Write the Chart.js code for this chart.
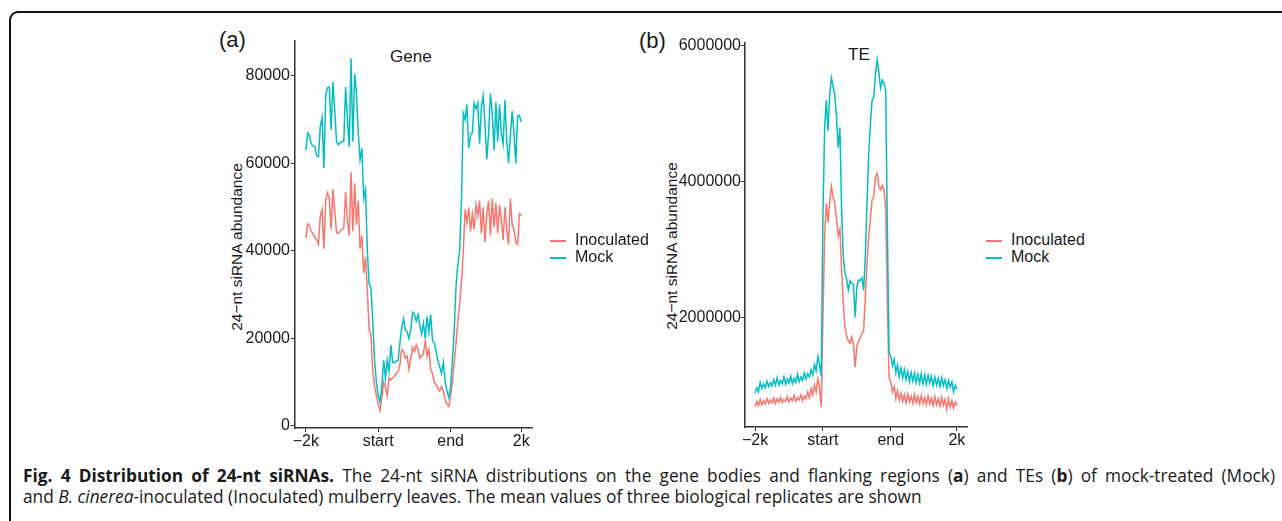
<!DOCTYPE html>
<html>
<head>
<meta charset="utf-8">
<script src="https://cdn.jsdelivr.net/npm/chart.js@4.4.1/dist/chart.umd.min.js"></script>
<style>
  body { margin: 0; width: 1282px; height: 521px; overflow: hidden; background: #fff; position: relative; font-family: "Liberation Sans", Arial, sans-serif; color: #1a1a1a; }
  .frame { position: absolute; left: 9px; top: 11px; width: 1300px; height: 540px; border: 2.5px solid #111; border-radius: 9px; }
  canvas { position: absolute; top: 20px; }
  #geneChart { left: 200px; }
  #teChart { left: 640px; }
  .txt { position: absolute; white-space: nowrap; line-height: 1; }
  .panel-tag { font-size: 22px; }
  .panel-title { font-size: 17px; }
  .y-title { position: absolute; white-space: nowrap; font-size: 15.5px; line-height: 1; transform: translate(-50%, -50%) rotate(-90deg); }
  .legend { position: absolute; font-size: 16px; }
  .legend div { position: relative; height: 17px; line-height: 16px; padding-left: 25px; }
  .legend span { position: absolute; left: 0; top: 8px; width: 16px; height: 0; border-top: 2px solid; }
  .caption { position: absolute; left: 23px; top: 465px; width: 1252px; font-family: "Open Sans", sans-serif; font-size: 17.3px; line-height: 21px; white-space: nowrap; color: #1a1a1a; }
  .caption .l1 { text-align: justify; text-align-last: justify; }
</style>
</head>
<body>
<div class="frame"></div>

<div class="txt panel-tag" style="left:219px; top:29px;">(a)</div>
<div class="txt panel-tag" style="left:639px; top:30px;">(b)</div>
<div class="txt panel-title" style="left:390px; top:48px;">Gene</div>
<div class="txt panel-title" style="left:848px; top:46px;">TE</div>
<div class="y-title" style="left:237px; top:247px;">24&minus;nt siRNA abundance</div>
<div class="y-title" style="left:672px; top:246px;">24&minus;nt siRNA abundance</div>

<canvas id="geneChart" width="340" height="440"></canvas>
<canvas id="teChart" width="340" height="440"></canvas>

<div class="legend" id="geneLegend" style="left:550px; top:232px;"></div>
<div class="legend" id="teLegend" style="left:986px; top:232px;"></div>

<div class="caption">
  <div class="l1"><b>Fig. 4 Distribution of 24-nt siRNAs.</b> The 24-nt siRNA distributions on the gene bodies and flanking regions (<b>a</b>) and TEs (<b>b</b>) of mock-treated (Mock)</div>
  <div>and <i>B. cinerea</i>-inoculated (Inoculated) mulberry leaves. The mean values of three biological replicates are shown</div>
</div>

<script>
// 120 bins: 40 upstream (-2k..start), 40 body (start..end), 40 downstream (end..2k)
const seriesNames = ['Inoculated', 'Mock'];
const seriesColors = ['#F8766D', '#00BFC4'];

const xTickPos = [0, 40, 80, 119];
const xTickLabels = ['\u22122k', 'start', 'end', '2k'];

const geneTicks = [0, 20000, 40000, 60000, 80000];
const teTicks = [2000000, 4000000, 6000000];

const geneInoculated = [
  43000, 46200, 45800, 44500, 43800, 43200, 42500, 41500, 48000, 49500,
  40500, 51500, 53300, 52000, 45000, 54200, 49000, 44200, 44000, 44600,
  45000, 45200, 53500, 47000, 43500, 58000, 44500, 55500, 46000, 51500,
  40500, 43500, 35000, 38500, 31000, 22000, 21000, 12500, 9000, 7000,
  5000, 3500, 6500, 10000, 9000, 7000, 11000, 10500, 11000, 11500,
  12000, 12500, 14000, 17500, 17000, 15500, 16000, 13000, 15500, 18000,
  17000, 18500, 17500, 15500, 16000, 16500, 19500, 16000, 17500, 13000,
  12000, 10000, 9500, 8500, 8000, 9000, 8000, 6000, 5000, 4500,
  7000, 10000, 14500, 19000, 24000, 28000, 33000, 40000, 49500, 46500,
  50000, 44500, 48500, 45000, 50500, 48000, 51500, 44000, 50000, 42000,
  48500, 51500, 43500, 52000, 45500, 51000, 44000, 50500, 47000, 42500,
  50000, 45000, 41500, 52000, 46000, 45000, 42000, 41500, 48500, 48000
];

const geneMock = [
  63000, 67000, 66500, 64500, 64000, 63800, 61800, 61500, 68500, 70500,
  59000, 75700, 77300, 77500, 67700, 78700, 72000, 65000, 64300, 64700,
  65000, 65000, 77500, 70000, 63800, 84000, 65000, 80500, 76000, 67000,
  60800, 63500, 52000, 54000, 40000, 32500, 31500, 24000, 15000, 10000,
  7000, 5500, 9000, 15000, 11000, 15000, 12500, 18500, 14500, 14500,
  14800, 15000, 19000, 22500, 24500, 22000, 21500, 20000, 22000, 26000,
  25500, 24000, 25500, 23000, 21000, 23500, 20000, 25000, 21500, 25500,
  19500, 19000, 17000, 15000, 13500, 12000, 14500, 10000, 8000, 6500,
  9000, 15000, 22000, 32000, 37000, 40000, 52000, 71500, 70000, 73500,
  63500, 66500, 67000, 73800, 72500, 73800, 64500, 73000, 75500, 68500,
  61000, 67000, 76000, 71500, 63000, 74000, 65000, 73500, 67000, 64500,
  74500, 65000, 60000, 66500, 72000, 67000, 60000, 70800, 71000, 69500
];

const teInoculated = [
  680000, 760000, 700000, 790000, 710000, 770000, 720000, 800000, 730000, 780000,
  740000, 810000, 730000, 800000, 750000, 820000, 740000, 790000, 760000, 830000,
  750000, 810000, 770000, 850000, 760000, 820000, 780000, 860000, 770000, 840000,
  800000, 900000, 820000, 950000, 860000, 1000000, 900000, 1100000, 950000, 680000,
  2000000, 3200000, 3680000, 3400000, 3700000, 3930000, 3780000, 3680000, 3450000, 3200000,
  3300000, 2700000, 2200000, 1850000, 1720000, 1650000, 1620000, 1710000, 1600000, 1270000,
  1570000, 1650000, 1700000, 1760000, 1800000, 2300000, 2800000, 3200000, 3450000, 3730000,
  3780000, 4070000, 4120000, 3930000, 3880000, 3950000, 3880000, 3630000, 2200000, 1100000,
  1050000, 900000, 980000, 800000, 920000, 780000, 880000, 760000, 860000, 740000,
  870000, 750000, 840000, 730000, 860000, 740000, 830000, 720000, 850000, 730000,
  820000, 710000, 840000, 720000, 810000, 700000, 830000, 710000, 800000, 690000,
  820000, 700000, 790000, 640000, 800000, 680000, 770000, 660000, 750000, 700000
];

const teMock = [
  880000, 960000, 900000, 1040000, 950000, 1020000, 960000, 1060000, 980000, 1040000,
  990000, 1080000, 1000000, 1110000, 1000000, 1070000, 1020000, 1120000, 1010000, 1090000,
  1030000, 1130000, 1020000, 1100000, 1040000, 1160000, 1050000, 1120000, 1070000, 1180000,
  1090000, 1170000, 1120000, 1230000, 1150000, 1300000, 1210000, 1420000, 1300000, 1130000,
  3500000, 4800000, 5200000, 4750000, 5300000, 5530000, 5400000, 5280000, 4950000, 4500000,
  4800000, 3600000, 2900000, 2650000, 2550000, 2400000, 2540000, 2500000, 2480000, 2000000,
  2450000, 2550000, 2540000, 2580000, 2400000, 2900000, 3700000, 4400000, 4850000, 5200000,
  5250000, 5600000, 5800000, 5600000, 5380000, 5500000, 5450000, 5350000, 3300000, 1480000,
  1430000, 1280000, 1380000, 1180000, 1300000, 1120000, 1250000, 1100000, 1230000, 1080000,
  1200000, 1050000, 1190000, 1060000, 1180000, 1040000, 1160000, 1030000, 1170000, 1020000,
  1150000, 1010000, 1140000, 1030000, 1130000, 990000, 1120000, 1000000, 1100000, 980000,
  1110000, 990000, 1080000, 950000, 1070000, 970000, 1050000, 900000, 1000000, 940000
];

const bins = geneMock.map((_, i) => i);
const axisFont = { family: '"Liberation Sans", Arial, sans-serif', size: 16 };

function makeChart(id, values, yTicks, opt) {
  const datasets = values.map((v, k) => ({
    label: seriesNames[k],
    data: v,
    borderColor: seriesColors[k],
    borderWidth: 1.5,
    pointRadius: 0,
    tension: 0,
    fill: false,
    order: k === 1 ? 0 : 1
  }));

  return new Chart(document.getElementById(id), {
    type: 'line',
    data: { labels: bins, datasets },
    options: {
      responsive: false,
      animation: false,
      devicePixelRatio: 1,
      layout: { padding: { left: 0, top: opt.padTop, right: opt.padRight, bottom: 0 } },
      plugins: { legend: { display: false }, tooltip: { enabled: false } },
      scales: {
        x: {
          type: 'linear',
          min: -5.95,
          max: 124.95,
          afterBuildTicks: s => { s.ticks = xTickPos.map(v => ({ value: v })); },
          afterFit: s => { s.height = opt.xHeight; },
          ticks: {
            autoSkip: false, maxRotation: 0, padding: 0, color: '#1a1a1a', font: axisFont,
            callback: (v, i) => xTickLabels[i]
          },
          grid: { drawOnChartArea: false, tickLength: 4, color: '#333' },
          border: { display: true, color: '#333', width: 1.5 }
        },
        y: {
          min: opt.yMin,
          max: opt.yMax,
          afterBuildTicks: s => { s.ticks = yTicks.map(v => ({ value: v })); },
          afterFit: s => { s.width = opt.yWidth; },
          ticks: { padding: opt.tickPad, color: '#1a1a1a', font: axisFont, callback: v => String(v) },
          grid: { drawOnChartArea: false, tickLength: 4, color: '#333' },
          border: { display: true, color: '#333', width: 1.5 }
        }
      }
    }
  });
}

function makeLegend(id, chart) {
  const box = document.getElementById(id);
  chart.data.datasets.forEach(ds => {
    const row = document.createElement('div');
    const key = document.createElement('span');
    key.style.borderColor = ds.borderColor;
    row.appendChild(key);
    row.appendChild(document.createTextNode(ds.label));
    box.appendChild(row);
  });
}

const geneChart = makeChart('geneChart', [geneInoculated, geneMock], geneTicks, {
  yMin: -460, yMax: 88000, yWidth: 95, xHeight: 32, padTop: 21, padRight: 8, tickPad: 1
});
const teChart = makeChart('teChart', [teInoculated, teMock], teTicks, {
  yMin: 383000, yMax: 6044000, yWidth: 105, xHeight: 33, padTop: 23, padRight: 13, tickPad: 0
});

makeLegend('geneLegend', geneChart);
makeLegend('teLegend', teChart);
</script>
</body>
</html>
